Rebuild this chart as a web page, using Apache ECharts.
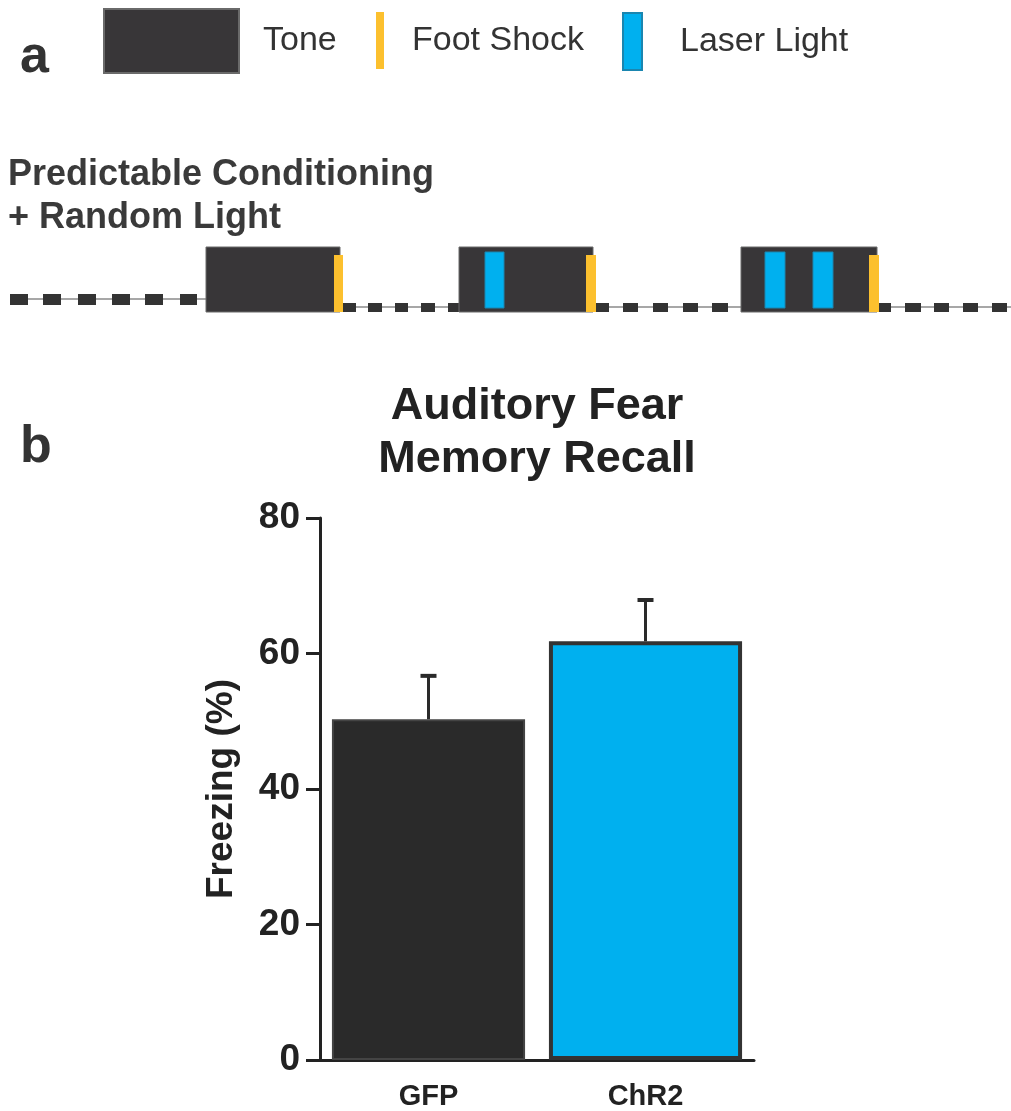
<!DOCTYPE html>
<html>
<head>
<meta charset="utf-8">
<script src="https://cdn.jsdelivr.net/npm/echarts@6/dist/echarts.min.js"></script>
<style>
html,body{margin:0;padding:0;background:#fff;}
#chart{width:1011px;height:1111px;}
</style>
</head>
<body>
<div id="chart"></div>
<script>
// ---------- Panel b data ----------
const categories = ['GFP', 'ChR2'];
const freezingMean = [50.3, 61.8];
const freezingSem = [6.4, 6.1];
const yTicks = [0, 20, 40, 60, 80];

// ---------- Panel a schematic data (time units along the session, vertical levels) ----------
const toneSpans = [[206, 340], [459, 593], [741, 877]];
const toneLevel = [7, 72];
const footShockSpans = [[334, 343], [586, 596], [869, 879]];
const footShockLevel = [15, 72];
const laserLightSpans = [[485, 504], [765, 785], [813, 833]];
const laserLightLevel = [12, 68];
const itiLines = [[10, 206, 59], [343, 459, 67], [596, 741, 67], [879, 1011, 67]];
const itiDashesFirst = [[10, 28], [43, 61], [78, 96], [112, 130], [145, 163], [180, 197]];
const itiDashesFirstLevel = [54, 65];
const itiDashesRest = [[343, 356], [368, 382], [395, 408], [421, 435], [448, 460],
  [596, 609], [623, 638], [653, 668], [683, 698], [712, 728],
  [879, 891], [905, 921], [934, 949], [963, 978], [992, 1007]];
const itiDashesRestLevel = [63, 72];

// ---------- styles ----------
const FONT = '"Liberation Sans", Arial, sans-serif';
const barStyles = [
  { color: '#2a2a2a', borderColor: '#444', borderWidth: 2 },
  { color: '#00b0ef', borderColor: '#333', borderWidth: 4 }
];

function spanData(spans, level) {
  return spans.map(s => [s[0], s[1], level[0], level[1]]);
}
function spanRect(params, api) {
  const p0 = api.coord([api.value(0), api.value(2)]);
  const p1 = api.coord([api.value(1), api.value(3)]);
  return {
    type: 'rect',
    shape: { x: p0[0], y: Math.min(p0[1], p1[1]), width: p1[0] - p0[0], height: Math.abs(p1[1] - p0[1]) },
    style: api.style()
  };
}
function lineItem(params, api) {
  const p0 = api.coord([api.value(0), api.value(2)]);
  const p1 = api.coord([api.value(1), api.value(2)]);
  return {
    type: 'line',
    shape: { x1: p0[0], y1: p0[1], x2: p1[0], y2: p1[1] },
    style: { stroke: '#8a8a8a', lineWidth: 1.5 }
  };
}
function errorItem(params, api) {
  const base = api.coord([api.value(0), api.value(1)]);
  const top = api.coord([api.value(0), api.value(2)]);
  const half = 8;
  return {
    type: 'group',
    children: [
      { type: 'line', shape: { x1: base[0], y1: base[1], x2: top[0], y2: top[1] }, style: { stroke: '#2a2a2a', lineWidth: 3 } },
      { type: 'line', shape: { x1: top[0] - half, y1: top[1], x2: top[0] + half, y2: top[1] }, style: { stroke: '#2a2a2a', lineWidth: 4 } }
    ]
  };
}

const chart = echarts.init(document.getElementById('chart'), null, { renderer: 'canvas' });

const legendText = { fontFamily: FONT, fontSize: 34, color: '#333' };

const option = {
  backgroundColor: '#ffffff',
  animation: false,
  textStyle: { fontFamily: FONT },
  title: [
    { text: 'a', left: 20, top: 32, padding: 0, textStyle: { fontFamily: FONT, fontSize: 52, fontWeight: 'bold', color: '#333' } },
    { text: 'Predictable Conditioning\n+ Random Light', left: 8, top: 154, padding: 0,
      textStyle: { fontFamily: FONT, fontSize: 36, fontWeight: 'bold', color: '#3a3a3a', lineHeight: 43 } },
    { text: 'b', left: 20, top: 422, padding: 0, textStyle: { fontFamily: FONT, fontSize: 52, fontWeight: 'bold', color: '#333' } },
    { text: 'Auditory Fear\nMemory Recall', left: 537, top: 380, padding: 0, textAlign: 'center',
      textStyle: { fontFamily: FONT, fontSize: 45, fontWeight: 'bold', color: '#222', lineHeight: 53 } }
  ],
  legend: [
    { data: [{ name: 'Tone', icon: 'rect' }], left: 103, top: 8, padding: 0, itemWidth: 135, itemHeight: 64,
      selectedMode: false, textStyle: Object.assign({ padding: [0, 0, 0, 19] }, legendText) },
    { data: [{ name: 'Foot Shock', icon: 'rect' }], left: 376, top: 12, padding: 0, itemWidth: 8, itemHeight: 57,
      selectedMode: false, textStyle: Object.assign({ padding: [0, 0, 0, 23] }, legendText) },
    { data: [{ name: 'Laser Light', icon: 'rect' }], left: 622, top: 12, padding: 0, itemWidth: 19, itemHeight: 57,
      selectedMode: false, textStyle: Object.assign({ padding: [0, 0, 0, 33] }, legendText) }
  ],
  grid: [
    { left: 320, top: 518, width: 434, height: 542, containLabel: false },
    { left: 0, top: 240, width: 1011, height: 80, containLabel: false }
  ],
  xAxis: [
    {
      type: 'category', gridIndex: 0, data: categories,
      axisLine: { lineStyle: { color: '#222', width: 3 } },
      axisTick: { alignWithLabel: true, length: 7, lineStyle: { color: '#222', width: 3 } },
      axisLabel: { fontFamily: FONT, fontSize: 29, fontWeight: 'bold', color: '#222', margin: 22 }
    },
    { type: 'value', gridIndex: 1, min: 0, max: 1011, show: false }
  ],
  yAxis: [
    {
      type: 'value', gridIndex: 0, min: 0, max: 80, interval: 20,
      name: 'Freezing (%)', nameLocation: 'middle', nameGap: 80, nameRotate: 90,
      nameTextStyle: { fontFamily: FONT, fontSize: 37, fontWeight: 'bold', color: '#222' },
      axisLine: { show: true, lineStyle: { color: '#222', width: 3 } },
      axisTick: { show: true, length: 14, lineStyle: { color: '#222', width: 3 } },
      axisLabel: { fontFamily: FONT, fontSize: 37, fontWeight: 'bold', color: '#222', margin: 20,
        formatter: v => (yTicks.indexOf(v) >= 0 ? String(v) : '') },
      splitLine: { show: false }
    },
    { type: 'value', gridIndex: 1, min: 0, max: 80, inverse: true, show: false }
  ],
  series: [
    {
      name: 'Freezing', type: 'bar', xAxisIndex: 0, yAxisIndex: 0, barWidth: '89%',
      data: freezingMean.map((v, i) => ({ value: v, itemStyle: barStyles[i] })), z: 2
    },
    {
      name: 'SEM', type: 'custom', xAxisIndex: 0, yAxisIndex: 0, renderItem: errorItem,
      data: freezingMean.map((v, i) => [i, v, v + freezingSem[i]]), z: 3
    },
    {
      name: 'ITI line', type: 'custom', xAxisIndex: 1, yAxisIndex: 1, renderItem: lineItem,
      data: itiLines, z: 1, silent: true
    },
    {
      name: 'ITI dashes', type: 'custom', xAxisIndex: 1, yAxisIndex: 1, renderItem: spanRect,
      itemStyle: { color: '#333' },
      data: spanData(itiDashesFirst, itiDashesFirstLevel).concat(spanData(itiDashesRest, itiDashesRestLevel)), z: 2, silent: true
    },
    {
      name: 'Tone', type: 'custom', xAxisIndex: 1, yAxisIndex: 1, renderItem: spanRect,
      itemStyle: { color: '#383638', borderColor: '#6a6a6a', borderWidth: 1 },
      data: spanData(toneSpans, toneLevel), z: 3
    },
    {
      name: 'Laser Light', type: 'custom', xAxisIndex: 1, yAxisIndex: 1, renderItem: spanRect,
      itemStyle: { color: '#00b0ef', borderColor: '#1a86b0', borderWidth: 1 },
      data: spanData(laserLightSpans, laserLightLevel), z: 4
    },
    {
      name: 'Foot Shock', type: 'custom', xAxisIndex: 1, yAxisIndex: 1, renderItem: spanRect,
      itemStyle: { color: '#fcc02e' },
      data: spanData(footShockSpans, footShockLevel), z: 5
    }
  ]
};
chart.setOption(option);
</script>
</body>
</html>
